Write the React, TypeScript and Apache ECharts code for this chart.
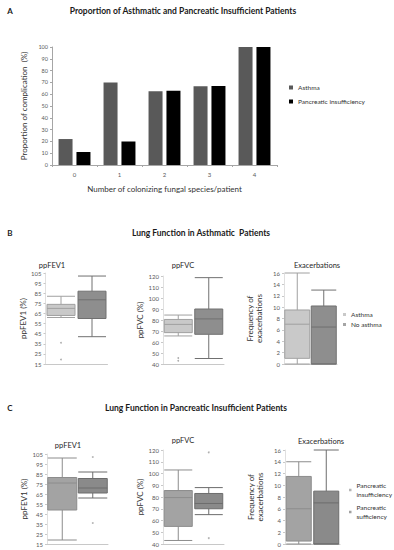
import React, { useEffect, useRef } from "react";
import * as echarts from "echarts";

// ---------- Data ----------
const fungalCategories = ["0", "1", "2", "3", "4"];
const asthmaPct = [22, 70, 62.5, 66.7, 100];
const pancreaticPct = [11, 20, 63, 67, 100];

const asthmaGroups = ["Asthma", "No asthma"];
const pancreaticGroups = ["Pancreatic\ninsufficiency", "Pancreatic\nsufficiency"];

// boxes: [min, Q1, median, Q3, max]
const bFev1Asthma = [61, 63, 70, 74, 82];
const bFev1NoAsthma = [42, 60, 78.5, 87, 102];
const bFev1Outliers = [[0, 36], [0, 19.5]];
const bFvcAsthma = [65.5, 68.5, 76, 80.5, 84.5];
const bFvcNoAsthma = [45, 67, 81, 90, 118.5];
const bFvcOutliers = [[0, 45.5], [0, 43]];
const bExacAsthma = [0, 1, 7, 9.5, 16];
const bExacNoAsthma = [0, 0, 6.5, 10.2, 13];

const cFev1Insuff = [19, 49, 76, 81.5, 101];
const cFev1Suff = [61, 66, 71, 80.5, 87];
const cFev1Outliers = [[1, 102], [1, 36]];
const cFvcInsuff = [43, 55, 79.5, 85.5, 103];
const cFvcSuff = [65, 70, 74.5, 83, 88];
const cFvcOutliers = [[1, 118], [1, 45]];
const cExacInsuff = [0, 0.5, 6, 11.5, 14];
const cExacSuff = [0, 0, 7, 9, 16];

const FONT = "Lato, 'Open Sans', sans-serif";
const TXT = "#333333";
const LBL = "#595959";

const B_LIGHT = { color: "#c9c9c9", borderColor: "#a0a0a0" };
const B_DARK = { color: "#8e8e8e", borderColor: "#707070" };
const C_LIGHT = { color: "#a3a3a3", borderColor: "#8c8c8c" };
const C_DARK = { color: "#8a8a8a", borderColor: "#6c6c6c" };

function boxAxes(
  gi: number,
  cats: string[],
  min: number,
  max: number,
  interval: number,
  name: string,
  nameGap: number
) {
  const x = {
    type: "category",
    gridIndex: gi,
    data: cats,
    axisLabel: { show: false },
    axisTick: { show: false },
    axisLine: { show: true, lineStyle: { color: "#c8c8c8", width: 1 } },
  };
  const y = {
    type: "value",
    gridIndex: gi,
    min,
    max,
    interval,
    name,
    nameLocation: "middle",
    nameGap,
    nameTextStyle: { fontSize: 8, color: TXT, fontFamily: FONT, lineHeight: 9 },
    axisLine: { show: true, lineStyle: { color: "#e0e0e0" } },
    axisTick: { show: true, length: 2, lineStyle: { color: "#c8c8c8" } },
    axisLabel: { fontSize: 6, color: LBL, fontFamily: FONT, margin: 4 },
    splitLine: { show: false },
  };
  return { x, y };
}

export default function App() {
  const ref = useRef<HTMLDivElement>(null);
  useEffect(() => {
    const chart = echarts.init(ref.current!, null, { renderer: "svg" });

    const grids = [
      { left: 52, top: 47, width: 225, height: 118 }, // A
      { left: 45.5, top: 273, width: 62, height: 91 }, // B fev1
      { left: 163, top: 276, width: 61, height: 88 }, // B fvc
      { left: 284, top: 273, width: 53, height: 91 }, // B exac
      { left: 47, top: 454, width: 61, height: 90 }, // C fev1
      { left: 163, top: 450, width: 61, height: 94 }, // C fvc
      { left: 285, top: 450, width: 55, height: 94 }, // C exac
    ].map((g) => ({ ...g, containLabel: false }));

    const axA = {
      x: {
        type: "category",
        gridIndex: 0,
        data: fungalCategories,
        name: "Number of colonizing fungal species/patient",
        nameLocation: "middle",
        nameGap: 20,
        nameTextStyle: { fontSize: 8, color: TXT, fontFamily: FONT },
        axisLine: { lineStyle: { color: "#a6a6a6" } },
        axisTick: { show: true, length: 2, lineStyle: { color: "#a6a6a6" } },
        axisLabel: { fontSize: 6, color: LBL, fontFamily: FONT, margin: 6 },
      },
      y: {
        type: "value",
        gridIndex: 0,
        min: 0,
        max: 100,
        interval: 10,
        name: "Proportion of complication  (%)",
        nameLocation: "middle",
        nameGap: 20,
        nameTextStyle: { fontSize: 8, color: TXT, fontFamily: FONT },
        axisLine: { show: true, lineStyle: { color: "#a6a6a6" } },
        axisTick: { show: true, length: 2, lineStyle: { color: "#a6a6a6" } },
        axisLabel: { fontSize: 5.5, color: LBL, fontFamily: FONT, margin: 4 },
        splitLine: { show: false },
      },
    };

    const ax = [
      boxAxes(1, asthmaGroups, 15, 105, 10, "ppFEV1 (%)", 14),
      boxAxes(2, asthmaGroups, 40, 120, 10, "ppFVC (%)", 18),
      boxAxes(3, asthmaGroups, 0, 16, 2, "Frequency of\nexacerbations", 21),
      boxAxes(4, pancreaticGroups, 15, 105, 10, "ppFEV1 (%)", 16),
      boxAxes(5, pancreaticGroups, 40, 120, 10, "ppFVC (%)", 18),
      boxAxes(6, pancreaticGroups, 0, 16, 2, "Frequency of\nexacerbations", 21),
    ];

    const box = (gi: number, a: number[], b: number[], sa: any, sb: any, w: number) => ({
      type: "boxplot",
      xAxisIndex: gi,
      yAxisIndex: gi,
      boxWidth: [w, w],
      itemStyle: { borderWidth: 1 },
      data: [
        { value: a, itemStyle: sa },
        { value: b, itemStyle: sb },
      ],
      silent: true,
    });
    const outl = (gi: number, pts: number[][]) => ({
      type: "scatter",
      xAxisIndex: gi,
      yAxisIndex: gi,
      data: pts,
      symbol: "circle",
      symbolSize: 1.8,
      itemStyle: { color: "#9a9a9a" },
      silent: true,
    });
    const dummy = (gi: number, name: string, color: string) => ({
      type: "scatter",
      name,
      xAxisIndex: gi,
      yAxisIndex: gi,
      data: [],
      itemStyle: { color },
    });

    const head = (text: string, x: number, y: number, size: number) => ({
      text,
      left: x,
      top: y - size / 2 - 1,
      textAlign: "center",
      padding: 0,
      itemGap: 0,
      textStyle: {
        fontSize: size,
        fontWeight: "bold",
        fontFamily: FONT,
        color: "#1a1a1a",
        lineHeight: size + 2,
      },
    });
    const sub = (text: string, x: number, y: number) => ({
      text,
      left: x,
      top: y - 5,
      textAlign: "center",
      padding: 0,
      itemGap: 0,
      textStyle: {
        fontSize: 7.5,
        fontWeight: "normal",
        fontFamily: FONT,
        color: "#262626",
        lineHeight: 10,
      },
    });

    const legendText = { fontSize: 6.5, color: TXT, fontFamily: FONT };

    const option: any = {
      animation: false,
      backgroundColor: "#ffffff",
      title: [
        head("A", 10, 11, 8),
        head("Proportion of Asthmatic and Pancreatic Insufficient Patients", 183, 11, 8.5),
        head("B", 10, 233, 8),
        head("Lung Function in Asthmatic  Patients", 201, 233, 8.5),
        sub("ppFEV1", 52, 265),
        sub("ppFVC", 183, 265),
        sub("Exacerbations", 317, 265),
        head("C", 10, 408, 8),
        head("Lung Function in Pancreatic Insufficient Patients", 196, 408, 8.5),
        sub("ppFEV1", 68, 445),
        sub("ppFVC", 183, 440),
        sub("Exacerbations", 321, 441),
      ],
      grid: grids,
      xAxis: [axA.x, ...ax.map((a) => a.x)],
      yAxis: [axA.y, ...ax.map((a) => a.y)],
      legend: [
        {
          data: [
            { name: "Asthma", itemStyle: { color: "#595959" } },
            { name: "Pancreatic insufficiency", itemStyle: { color: "#000000" } },
          ],
          orient: "vertical",
          left: 289,
          top: 84,
          icon: "rect",
          itemWidth: 4,
          itemHeight: 4,
          itemGap: 7,
          textStyle: legendText,
          selectedMode: false,
          padding: 0,
        },
        {
          data: [
            { name: "Asthma", itemStyle: { color: "#c9c9c9" } },
            { name: "No asthma", itemStyle: { color: "#8e8e8e" } },
          ],
          orient: "vertical",
          left: 343,
          top: 311,
          icon: "rect",
          itemWidth: 3,
          itemHeight: 3,
          itemGap: 3,
          textStyle: legendText,
          selectedMode: false,
          padding: 0,
        },
        {
          data: pancreaticGroups,
          orient: "vertical",
          left: 349,
          top: 481,
          icon: "rect",
          itemWidth: 2.5,
          itemHeight: 2.5,
          itemGap: 4,
          textStyle: { ...legendText, lineHeight: 9 },
          selectedMode: false,
          padding: 0,
        },
      ],
      series: [
        {
          type: "bar",
          name: "Asthma",
          xAxisIndex: 0,
          yAxisIndex: 0,
          data: asthmaPct,
          barWidth: 14,
          barGap: "28%",
          itemStyle: { color: "#595959" },
        },
        {
          type: "bar",
          name: "Pancreatic insufficiency",
          xAxisIndex: 0,
          yAxisIndex: 0,
          data: pancreaticPct,
          barWidth: 14,
          barGap: "28%",
          itemStyle: { color: "#000000" },
        },
        box(1, bFev1Asthma, bFev1NoAsthma, B_LIGHT, B_DARK, 28),
        outl(1, bFev1Outliers),
        box(2, bFvcAsthma, bFvcNoAsthma, B_LIGHT, B_DARK, 28),
        outl(2, bFvcOutliers),
        box(3, bExacAsthma, bExacNoAsthma, B_LIGHT, B_DARK, 25),
        dummy(3, "No asthma", "#8e8e8e"),
        box(4, cFev1Insuff, cFev1Suff, C_LIGHT, C_DARK, 29),
        outl(4, cFev1Outliers),
        box(5, cFvcInsuff, cFvcSuff, C_LIGHT, C_DARK, 28),
        outl(5, cFvcOutliers),
        box(6, cExacInsuff, cExacSuff, C_LIGHT, C_DARK, 25),
        dummy(6, pancreaticGroups[0], "#a3a3a3"),
        dummy(6, pancreaticGroups[1], "#8a8a8a"),
      ],
    };

    chart.setOption(option);
    return () => chart.dispose();
  }, []);

  return (
    <div
      ref={ref}
      style={{ position: "fixed", left: 0, top: 0, width: 394, height: 550, background: "#fff" }}
    />
  );
}
